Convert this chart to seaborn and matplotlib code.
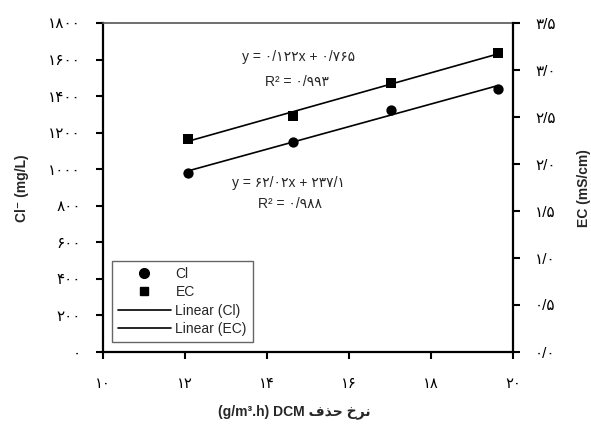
import matplotlib
matplotlib.use("Agg")
import matplotlib.pyplot as plt
import seaborn as sns
import pandas as pd
from matplotlib.lines import Line2D

sns.set_theme(style="white")
plt.rcParams['font.family'] = ['Liberation Sans', 'DejaVu Sans']

# ---- data ----
x_rate = [12.08, 14.64, 17.02, 19.63]          # DCM removal rate (g/m3.h)
cl_values = [981, 1150, 1324, 1439]            # Cl- (mg/L)
ec_values = [2.27, 2.51, 2.86, 3.18]           # EC (mS/cm)

x_ticks = [10, 12, 14, 16, 18, 20]
cl_ticks = [0, 200, 400, 600, 800, 1000, 1200, 1400, 1600, 1800]
ec_ticks = [0.0, 0.5, 1.0, 1.5, 2.0, 2.5, 3.0, 3.5]

eq_ec = "y = ۰/۱۲۲x + ۰/۷۶۵"
r2_ec = "R² = ۰/۹۹۳"
eq_cl = "y = ۶۲/۰۲x + ۲۳۷/۱"
r2_cl = "R² = ۰/۹۸۸"
legend_labels = ["Cl", "EC", "Linear (Cl)", "Linear (EC)"]
# x label "نرخ حذف DCM (g/m³.h)" in visual order with Arabic presentation forms
xlabel_text = "(g/m³.h) DCM " + "\uFED1\uFEAC\uFEA3 \uFEA5\uFEAE\uFEE7"
ylabel_left = "Cl⁻ (mg/L)"
ylabel_right = "EC (mS/cm)"

fa = str.maketrans("0123456789.", "۰۱۲۳۴۵۶۷۸۹/")
def fa_num(s):
    return s.translate(fa)

df = pd.DataFrame({"x": x_rate, "cl": cl_values, "ec": ec_values})

W, H = 591, 425
fig = plt.figure(figsize=(W / 100, H / 100), dpi=100)
L, R, T, B = 103, 513, 23, 352
ax = fig.add_axes([L / W, 1 - B / H, (R - L) / W, (B - T) / H])
ax2 = ax.twinx()

# points
sns.scatterplot(data=df, x="x", y="cl", ax=ax, marker="o", s=55, color="black",
                edgecolor="black", linewidth=0, zorder=5)
sns.scatterplot(data=df, x="x", y="ec", ax=ax2, marker="s", s=45, color="black",
                edgecolor="black", linewidth=0, zorder=5)
# trend lines
sns.regplot(data=df, x="x", y="cl", ax=ax, scatter=False, ci=None, color="black",
            line_kws={"lw": 1.2})
sns.regplot(data=df, x="x", y="ec", ax=ax2, scatter=False, ci=None, color="black",
            line_kws={"lw": 1.2})

ax.set_xlim(10, 20)
ax.set_ylim(0, 1800)
ax2.set_ylim(0, 3.5)
ax.set_xticks(x_ticks)
ax.set_xticklabels([fa_num(str(t)) for t in x_ticks])
ax.set_yticks(cl_ticks)
ax.set_yticklabels([fa_num(str(t)) for t in cl_ticks])
ax2.set_yticks(ec_ticks)
ax2.set_yticklabels([fa_num(f"{t:.1f}") for t in ec_ticks])
ax.set_xlabel("")
ax.set_ylabel("")
ax2.set_ylabel("")

for a in (ax, ax2):
    for s in a.spines.values():
        s.set_visible(False)
ax.spines["left"].set_visible(True)
ax.spines["bottom"].set_visible(True)
ax.spines["top"].set_visible(True)
ax2.spines["right"].set_visible(True)
for s in ("left", "bottom"):
    ax.spines[s].set_linewidth(1.6)
    ax.spines[s].set_color("black")
ax.spines["top"].set_linewidth(1.2)
ax.spines["top"].set_color("#555555")
ax2.spines["right"].set_linewidth(1.6)
ax2.spines["right"].set_color("black")

ax.tick_params(axis="x", direction="out", length=5, width=1.5, pad=13,
               labelsize=10.5, colors="black", bottom=True)
ax.tick_params(axis="y", direction="out", length=5, width=1.5, pad=11,
               labelsize=11, colors="black", left=True)
ax2.tick_params(axis="y", direction="out", length=5, width=1.5, pad=11,
                labelsize=11, colors="black", right=True)

# annotations
def px(xp, yp):
    return xp / W, 1 - yp / H

fig.text(*px(299, 57), eq_ec, ha="center", va="center", fontsize=10)
fig.text(*px(297, 82), r2_ec, ha="center", va="center", fontsize=10)
fig.text(*px(288, 183), eq_cl, ha="center", va="center", fontsize=10)
fig.text(*px(290, 204), r2_cl, ha="center", va="center", fontsize=10)

fig.text(*px(294, 412), xlabel_text, ha="center", va="center", fontsize=10,
         fontweight="bold")
fig.text(*px(22, 188), ylabel_left, ha="center", va="center", rotation=90,
         fontsize=10, fontweight="bold")
fig.text(*px(584, 188), ylabel_right, ha="center", va="center", rotation=90,
         fontsize=10, fontweight="bold")

handles = [
    Line2D([], [], marker="o", ls="none", color="black", markersize=7),
    Line2D([], [], marker="s", ls="none", color="black", markersize=6),
    Line2D([], [], color="black", lw=1.2),
    Line2D([], [], color="black", lw=1.2),
]
leg = ax.legend(handles, legend_labels, loc="lower left",
                bbox_to_anchor=((112 - L) / (R - L), (B - 342) / (B - T)),
                borderaxespad=0, frameon=True, fancybox=False, fontsize=10,
                handlelength=3.8, handletextpad=0.35, labelspacing=0.32,
                borderpad=0.42, framealpha=1)
leg.get_frame().set_edgecolor("#666666")
leg.get_frame().set_linewidth(1.0)
leg.set_zorder(10)

fig.savefig("out.png", dpi=100)
